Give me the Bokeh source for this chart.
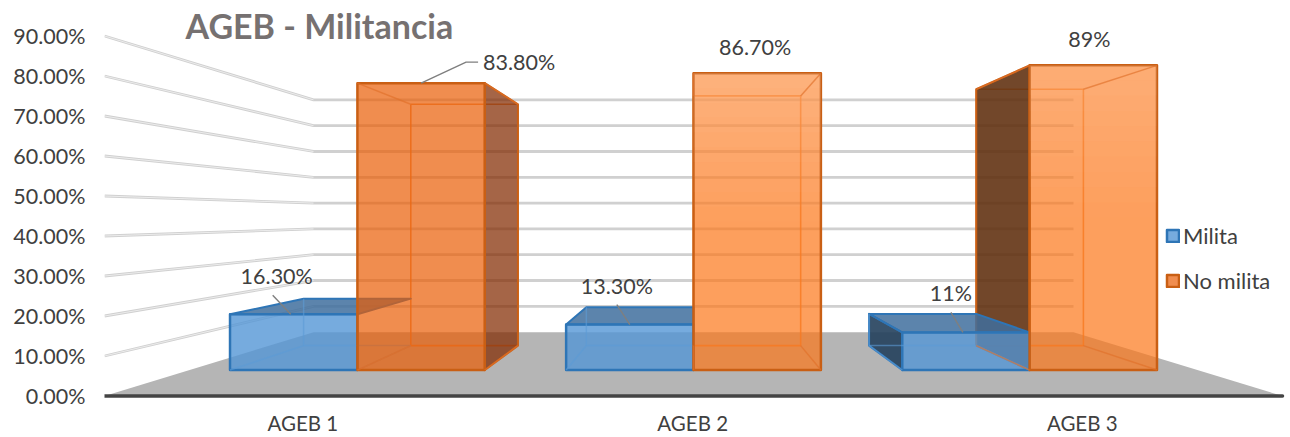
from bokeh.core.properties import value
from bokeh.embed import file_html
from bokeh.models import (ColumnDataSource, FixedTicker, Label, Legend, LegendItem,
                          LinearAxis, PrintfTickFormatter, Range1d)
from bokeh.plotting import figure
from bokeh.resources import INLINE

# ---- chart data -------------------------------------------------------------
chart_title = "AGEB - Militancia"
categories = ["AGEB 1", "AGEB 2", "AGEB 3"]
category_ticks = [0.505, 1.498, 2.49]
series_names = ["Milita", "No milita"]
milita = [16.3, 13.3, 11.0]
no_milita = [83.8, 86.7, 89.0]
milita_labels = ["16.30%", "13.30%", "11%"]
no_milita_labels = ["83.80%", "86.70%", "89%"]
value_ticks = [0, 10, 20, 30, 40, 50, 60, 70, 80, 90]

# ---- drawing constants ------------------------------------------------------
FONT = "Lato"
TEXT = "#404040"
PX_X = 392.67      # screen pixels per category on the front edge of the floor
PX_Y = 4.0         # screen pixels per percentage point on the front edge
VANISH_X = 1.5     # vanishing point, in category / percent units
VANISH_V = 45.0
PERSPECTIVE = 0.55
BAR_W = 0.379
Z_FRONT, Z_BACK = 0.306, 0.707
FLOOR_PX = 395.5   # screen row of the floor's front edge
FRAME_BOTTOM = 410 # screen row where the plot frame ends and the category labels begin


def project(x, v, z):
    """Front-plane coordinates of a point lying at depth z (0 = front, 1 = back wall)."""
    s = 1.0 / (1.0 + PERSPECTIVE * z)
    return VANISH_X + (x - VANISH_X) * s, VANISH_V + (v - VANISH_V) * s


def polygon(*points):
    xs, ys = zip(*(project(*pt) for pt in points))
    return list(xs), list(ys)


def dx(px):
    return px / PX_X


def dy(px):
    return px / PX_Y


p = figure(width=1290, height=437, output_backend="svg", toolbar_location=None,
           x_range=Range1d(0, 1186 / PX_X),
           y_range=Range1d((FLOOR_PX - FRAME_BOTTOM) / PX_Y, FLOOR_PX / PX_Y),
           x_axis_location=None, y_axis_location=None,
           min_border_left=104, min_border_right=0, min_border_top=0,
           min_border_bottom=437 - FRAME_BOTTOM,
           outline_line_color=None, background_fill_color="white", border_fill_color="white")
p.grid.visible = False

# value axis
y_axis = LinearAxis(ticker=FixedTicker(ticks=value_ticks),
                    formatter=PrintfTickFormatter(format="%.2f%%"),
                    axis_line_color=None, major_tick_line_color=None, minor_tick_line_color=None,
                    major_tick_in=0, major_tick_out=0,
                    major_label_standoff=19, major_label_text_font=FONT,
                    major_label_text_font_size="21.5px", major_label_text_color=TEXT)
p.add_layout(y_axis, "left")

# category axis
x_axis = LinearAxis(ticker=FixedTicker(ticks=category_ticks),
                    major_label_overrides=dict(zip(category_ticks, categories)),
                    axis_line_color=None, major_tick_line_color=None, minor_tick_line_color=None,
                    major_tick_in=0, major_tick_out=0,
                    major_label_standoff=0, major_label_text_font=FONT,
                    major_label_text_font_size="20.5px", major_label_text_color=TEXT)
p.add_layout(x_axis, "below")

# floor with its heavy front edge
fx, fy = polygon((0, 0, 0), (0, 0, 1), (3, 0, 1), (3, 0, 0))
p.patch(fx, fy, fill_color="#b5b5b5", line_color=None)
p.line([0, 3], [0, 0], line_color="#444444", line_width=3.5, line_cap="round")

# gridlines: across the back wall, then forward along the left wall
for tick in value_ticks[1:]:
    gx, gy = polygon((0, tick, 0), (0, tick, 1), (3, tick, 1))
    p.line(gx, gy, line_color="#d0d0d0", line_width=2.8)
    p.line(gx[:2], gy[:2], line_color="#eeeeee", line_width=0.9)


def box_corners(x0, x1, top):
    return {
        "fl": (x0, top, Z_FRONT), "fr": (x1, top, Z_FRONT),
        "bl": (x0, top, Z_BACK), "br": (x1, top, Z_BACK),
        "fl0": (x0, 0, Z_FRONT), "fr0": (x1, 0, Z_FRONT),
        "bl0": (x0, 0, Z_BACK), "br0": (x1, 0, Z_BACK),
    }


def faces(rows, color, alpha, edge, width):
    src = ColumnDataSource(dict(
        xs=[r[0] for r in rows], ys=[r[1] for r in rows],
        color=color, alpha=alpha, edge=edge))
    return p.patches("xs", "ys", source=src, fill_color="color", fill_alpha="alpha",
                     line_color="edge", line_width=width, line_join="round")


def edges(rows, color, alpha, width):
    p.multi_line([r[0] for r in rows], [r[1] for r in rows],
                 line_color=color, line_alpha=alpha, line_width=width)


ORANGE_EDGE = "#c95f14"
BLUE_EDGE = "#2e75b6"
orange_front_fill = ["#e95c04", "#fc7618", "#fc7618"]
sheen_strength = [0.0, 0.2, 0.15]   # white fade on the upper part of each orange bar
SHEEN_BANDS = 10
SHEEN_REACH = 0.5

# rear outline of the orange boxes, seen through their front faces
orange_back = []
for i, top in enumerate(no_milita):
    c = box_corners(i + 0.5, i + 0.5 + BAR_W, top)
    orange_back.append(polygon(c["bl"], c["br"], c["br0"], c["bl0"], c["bl"]))
edges(orange_back, "#ee7f33", 0.8, 1.6)

# outward-facing orange side walls sit behind the blue bars
side_rows, side_colors, side_alpha = [], [], []
for i, top in enumerate(no_milita):
    c = box_corners(i + 0.5, i + 0.5 + BAR_W, top)
    if i == 0:
        side_rows.append(polygon(c["fr"], c["br"], c["br0"], c["fr0"]))
        side_colors.append("#822a00")
        side_alpha.append(0.72)
    if i == 2:
        side_rows.append(polygon(c["fl"], c["bl"], c["bl0"], c["fl0"]))
        side_colors.append("#5f2d0c")
        side_alpha.append(0.88)
faces(side_rows, side_colors, side_alpha, [ORANGE_EDGE] * len(side_rows), 2)

# blue boxes
blue_front, blue_top, blue_side, blue_inner = [], [], [], []
for i, top in enumerate(milita):
    c = box_corners(i + 0.5 - BAR_W, i + 0.5, top)
    blue_front.append(polygon(c["fl"], c["fr"], c["fr0"], c["fl0"]))
    blue_top.append(polygon(c["fl"], c["fr"], c["br"], c["bl"]))
    if i == 2:
        blue_side.append(polygon(c["fl"], c["bl"], c["bl0"], c["fl0"]))
    blue_inner += [polygon(c["bl"], c["bl0"], c["br0"]),
                   polygon(c["fl0"], c["bl0"]), polygon(c["fr0"], c["br0"])]
faces(blue_side, ["#24405c"], [0.9], [BLUE_EDGE], 2)
faces(blue_top, ["#3f6f9e"] * 3, [0.85] * 3, [BLUE_EDGE] * 3, 2)
blue_faces = faces(blue_front, ["#5496d6"] * 3, [0.8] * 3, [BLUE_EDGE] * 3, 2.5)
edges(blue_inner, "#5b9bd5", 0.6, 1.5)

# orange front faces and the corner edges running back from them
orange_front, orange_corners = [], []
for i, top in enumerate(no_milita):
    c = box_corners(i + 0.5, i + 0.5 + BAR_W, top)
    orange_front.append(polygon(c["fl"], c["fr"], c["fr0"], c["fl0"]))
    orange_corners += [polygon(c["fl"], c["bl"]), polygon(c["fr"], c["br"]),
                       polygon(c["fl0"], c["bl0"]), polygon(c["fr0"], c["br0"])]
orange_faces = faces(orange_front, orange_front_fill, [0.7] * 3, [ORANGE_EDGE] * 3, 2.5)

# soft light falling off down the upper part of the brighter bars
sheen_rows, sheen_alpha = [], []
for i, top in enumerate(no_milita):
    for band in range(SHEEN_BANDS if sheen_strength[i] else 0):
        hi = top * (1 - SHEEN_REACH * band / SHEEN_BANDS)
        lo = top * (1 - SHEEN_REACH * (band + 1) / SHEEN_BANDS)
        c_hi = box_corners(i + 0.5, i + 0.5 + BAR_W, hi)
        c_lo = box_corners(i + 0.5, i + 0.5 + BAR_W, lo)
        sheen_rows.append(polygon(c_hi["fl"], c_hi["fr"], c_lo["fr"], c_lo["fl"]))
        sheen_alpha.append(sheen_strength[i] * (1 - (band + 0.5) / SHEEN_BANDS))
p.patches([r[0] for r in sheen_rows], [r[1] for r in sheen_rows], fill_color="white",
          fill_alpha=sheen_alpha, line_color=None)
edges(orange_corners, "#e0702a", 0.65, 1.5)

# value labels and their leader lines, anchored to the middle of each bar's top edge
tops = []
for i, (a, b) in enumerate(zip(milita, no_milita)):
    tops.append(project(i + 0.5 - BAR_W / 2, a, Z_FRONT))
    tops.append(project(i + 0.5 + BAR_W / 2, b, Z_FRONT))
label_texts = [t for pair in zip(milita_labels, no_milita_labels) for t in pair]
label_dx = [-17, 98, -13, -2, -15, -4]
label_dy = [-38.5, -21.5, -39, -26.5, -39, -26.5]
p.text([t[0] for t in tops], [t[1] for t in tops], text=label_texts,
       x_offset=label_dx, y_offset=label_dy, text_font=value(FONT), text_font_size="21.5px",
       text_color=TEXT, text_align="center", text_baseline="middle")

leader_paths = {0: [(-21, -19), (-3, 0)], 1: [(57, -21), (45, -21), (0, 0)],
                2: [(-13, -20), (0, 0)], 4: [(-15, -20), (-3, 0)]}
leaders = [([tops[k][0] + dx(a) for a, _ in path], [tops[k][1] - dy(b) for _, b in path])
           for k, path in leader_paths.items()]
edges(leaders, "#7f7f7f", 1, 1.4)

# title
p.add_layout(Label(x=dx(185 - 104), y=dy(FLOOR_PX - 25), text=chart_title, text_font=FONT,
                   text_font_size="34px", text_font_style="bold", text_color="#767171",
                   text_baseline="middle"))

# legend
legend = Legend(items=[LegendItem(label=series_names[0], renderers=[blue_faces], index=0),
                       LegendItem(label=series_names[1], renderers=[orange_faces], index=0)],
                location=(1165 - 104, 116), orientation="vertical",
                glyph_width=15, glyph_height=15, label_standoff=3, spacing=18,
                padding=0, margin=0, border_line_color=None, background_fill_alpha=0,
                label_text_font=FONT, label_text_font_size="22px", label_text_color=TEXT)
p.add_layout(legend, "center")

open("out.html", "w").write(file_html(p, INLINE))
